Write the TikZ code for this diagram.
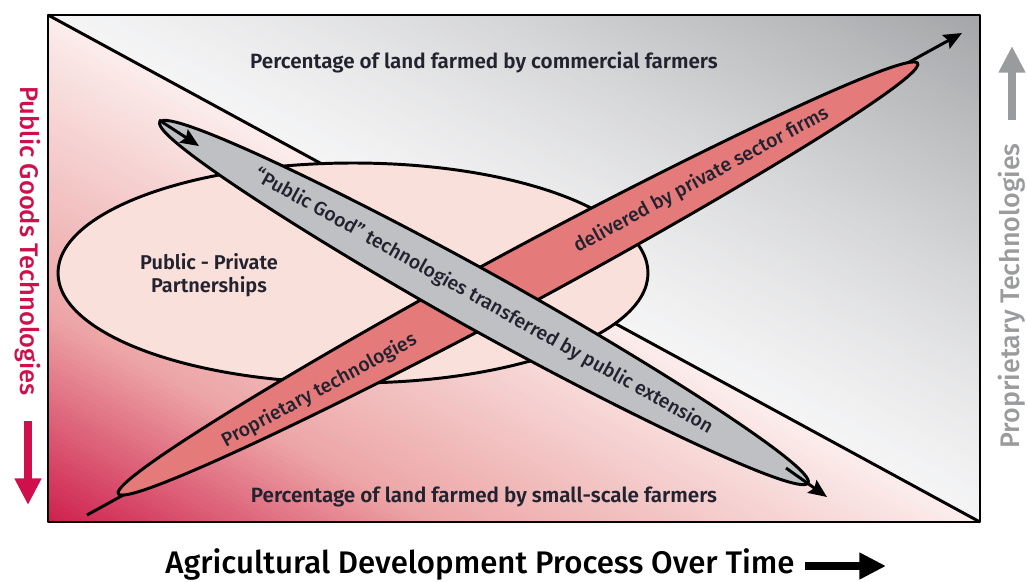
\documentclass[tikz,border=0pt]{standalone}
\usepackage{fontspec}
\setmainfont{Fira Sans Medium}[BoldFont={Fira Sans SemiBold}]
\usetikzlibrary{arrows.meta,calc}
\definecolor{crimson}{HTML}{D0104C}
\definecolor{bandred}{HTML}{E57A7A}
\definecolor{bandgray}{HTML}{BFC0C4}
\definecolor{ovalpink}{HTML}{F9E0DB}
\definecolor{pinklight}{HTML}{FBEDEC}
\definecolor{pinkmid}{HTML}{EDA5A6}
\definecolor{pinkdark}{HTML}{CD1C4B}
\definecolor{greylight}{HTML}{F4F4F5}
\definecolor{greydark}{HTML}{A2A4A7}
\definecolor{axisgrey}{HTML}{9A9B9D}
\definecolor{ink}{HTML}{23232F}
\def\spindle[#1](#2)(#3:#4:#5){\draw[#1, shift={(#2)}, rotate=#3] (-#4,0) .. controls (-#4,0.6*#5) and (-0.45*#4,#5) .. (0,#5) .. controls (0.45*#4,#5) and (#4,0.6*#5) .. (#4,0) .. controls (#4,-0.6*#5) and (0.45*#4,-#5) .. (0,-#5) .. controls (-0.45*#4,-#5) and (-#4,-0.6*#5) .. cycle;}
\tikzset{
  outline/.style={line width=2.1pt, line join=round},
  thinarrow/.style={line width=2.1pt, -{Stealth[length=13pt,width=11pt,inset=2pt]}},
  fatarrow/.style={line width=5.5pt, -{Triangle[length=19pt,width=18pt]}},
  inside/.style={text=ink, font=\fontsize{13.8}{16}\selectfont},
  share/.style={text=ink, font=\fontsize{14.7}{17}\selectfont\bfseries}
}
\begin{document}
\begin{tikzpicture}[x=0.025cm, y=-0.025cm]
		%%%%% START %%%%%
		\useasboundingbox (0,0) rectangle (1027,581);
		\coordinate (tl) at (48,15);
		\coordinate (tr) at (980,15);
		\coordinate (bl) at (48,522);
		\coordinate (br) at (980,522);
		
		% lower triangle, pink to red
		\begin{scope}
			\clip (tl) -- (br) -- (bl) -- cycle;
			\foreach \i in {0,...,89} {
				\pgfmathsetmacro\t{(\i+0.5)/90}
				\ifdim\t pt<0.58pt
					\pgfmathsetmacro\p{100*\t/0.58}
					\colorlet{stripc}{pinkmid!\p!pinklight}
				\else
					\pgfmathsetmacro\p{100*(\t-0.58)/0.42}
					\colorlet{stripc}{pinkdark!\p!pinkmid}
				\fi
				\fill[stripc, shift={(tl)}, rotate=-28.55] (-50,\i*5) rectangle (1150,\i*5+6);
			}
		\end{scope}
		% upper triangle, white to grey
		\begin{scope}
			\clip (tl) -- (tr) -- (br) -- cycle;
			\foreach \i in {0,...,89} {
				\pgfmathsetmacro\p{100*((\i+0.5)/90)^1.3}
				\fill[greydark!\p!greylight, shift={(tl)}, rotate=-28.55] (-50,-\i*5) rectangle (1150,-\i*5-6);
			}
		\end{scope}
		\draw[outline] (tl) -- (br);
		
		\draw[outline, fill=ovalpink] (353,273) ellipse [x radius=295, y radius=110];
		
		% proprietary band
		\coordinate (ra) at (118,494);
		\coordinate (rb) at (918,63);
		\coordinate (rtail) at (87,515);
		\coordinate (rhead) at (962,33);
		\draw[thinarrow] (rtail) -- (rhead);
		\spindle[outline, fill=bandred](518,278.5)(28.3:454:28);
		
		% public good band
		\coordinate (ga) at (159,120);
		\coordinate (gb) at (808,483);
		\coordinate (gstart) at (199,146);
		\coordinate (gend) at (786,468);
		\coordinate (ghead) at (827,497);
		\spindle[outline, fill=bandgray](484,302.5)(-29.1:371:29);
		\draw[thinarrow] (ga) -- (gstart);
		\draw[thinarrow] (gend) -- (ghead);
		
		\path (ra) -- (rb) node[inside, sloped, pos=0.249, yshift=-3pt] (proptech) {Proprietary technologies};
		\path (ra) -- (rb) node[inside, sloped, pos=0.729] (privfirms) {delivered by private sector firms};
		\path (ga) -- (gb) node[inside, sloped, pos=0.5] (pubgood) {“Public Good” technologies transferred by public extension};
		
		\node[share] (commercial) at (484,62) {Percentage of land farmed by commercial farmers};
		\node[share] (smallscale) at (484,497) {Percentage of land farmed by small-scale farmers};
		\node[share, align=center, font=\fontsize{14.2}{16.5}\selectfont\bfseries] (ppp) at (209,275) {Public - Private\\Partnerships};
		
		\draw[outline] (tl) rectangle (br);
		
		% axes
		\node[text=crimson, rotate=-90, font=\fontsize{18.1}{20}\selectfont] (pubaxis) at (28,241) {Public Goods Technologies};
		\coordinate (pubtop) at (28,421);
		\coordinate (pubtip) at (28,505);
		\draw[fatarrow, crimson] (pubtop) -- (pubtip);
		
		\node[text=axisgrey, rotate=90, font=\fontsize{19.1}{21}\selectfont] (propaxis) at (1012,296) {Proprietary Technologies};
		\coordinate (proplow) at (1012,120);
		\coordinate (proptip) at (1012,46);
		\draw[fatarrow, axisgrey] (proplow) -- (proptip);
		
		\node[font=\fontsize{22.2}{24}\selectfont, text=black, inner sep=0pt] (timeaxis) at (480,564) {Agricultural Development Process Over Time};
		\coordinate (timestart) at (805,566);
		\coordinate (timetip) at (886,566);
		\draw[fatarrow, black] (timestart) -- (timetip);
		
		%%%%% END %%%%%
	\end{tikzpicture}
\end{document}
